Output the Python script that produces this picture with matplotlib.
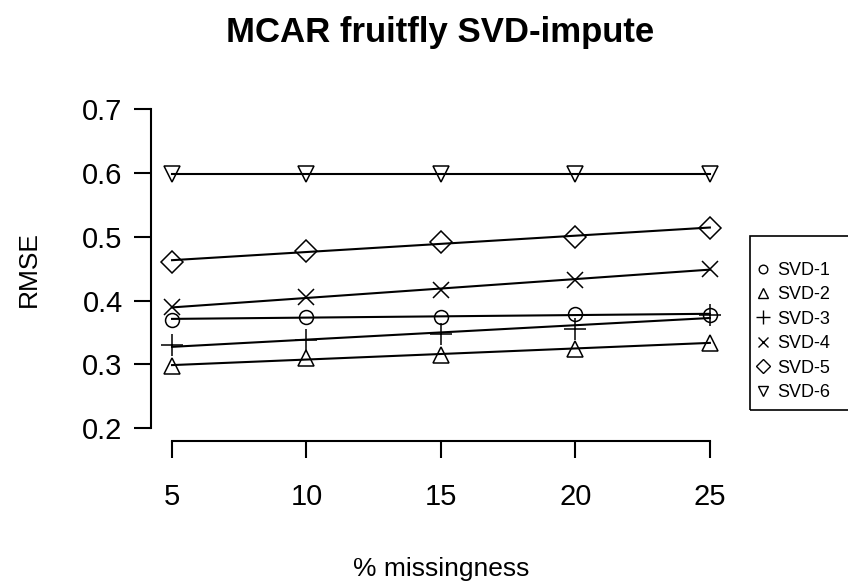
import numpy as np
import matplotlib
matplotlib.use("Agg")
import matplotlib.pyplot as plt
from matplotlib.patches import Rectangle

plt.rcParams['font.family'] = ['Liberation Sans', 'DejaVu Sans']

missingness = [5, 10, 15, 20, 25]
methods = ["SVD-1", "SVD-2", "SVD-3", "SVD-4", "SVD-5", "SVD-6"]
svd1 = [0.370, 0.375, 0.375, 0.379, 0.378]
svd2 = [0.298, 0.310, 0.315, 0.325, 0.334]
svd3 = [0.330, 0.339, 0.348, 0.356, 0.378]
svd4 = [0.390, 0.405, 0.417, 0.433, 0.450]
svd5 = [0.461, 0.478, 0.492, 0.500, 0.514]
svd6 = [0.598, 0.598, 0.598, 0.598, 0.598]
series = [svd1, svd2, svd3, svd4, svd5, svd6]

markers = ['o', '^', '+', 'x', 'D', 'v']
msizes = [10, 12, 16, 11, 11, 12]

W, H = 848, 586
fig = plt.figure(figsize=(W / 100, H / 100), dpi=100)
ax = fig.add_axes([0.1775, 0.2474, 0.685, 0.588])

x = np.array(missingness, dtype=float)
handles = []
for name, ys, m, ms in zip(methods, series, markers, msizes):
    ys = np.array(ys)
    # least-squares trend line through each method's points
    slope, icpt = np.polyfit(x, ys, 1)
    ax.plot(x, icpt + slope * x, color='black', lw=1.5, zorder=2)
    ax.plot(x, ys, linestyle='none', marker=m, markersize=ms,
            markerfacecolor='none', markeredgecolor='black',
            markeredgewidth=1.1, zorder=3)
    h, = ax.plot([], [], linestyle='none', marker=m, markersize=ms * 0.62,
                 markerfacecolor='none', markeredgecolor='black',
                 markeredgewidth=1.0, label=name)
    handles.append(h)

ax.set_xlim(4.2, 25.8)
ax.set_ylim(0.18, 0.72)
ax.set_xticks(missingness)
ax.set_yticks([0.2, 0.3, 0.4, 0.5, 0.6, 0.7])
ax.set_yticklabels(["0.2", "0.3", "0.4", "0.5", "0.6", "0.7"])

for side in ['top', 'right']:
    ax.spines[side].set_visible(False)
ax.spines['left'].set_bounds(0.2, 0.7)
ax.spines['bottom'].set_bounds(5, 25)
for sp in ax.spines.values():
    sp.set_linewidth(1.5)
ax.tick_params(axis='both', direction='out', length=12, width=1.5,
               labelsize=21)
ax.tick_params(axis='x', pad=18)
ax.tick_params(axis='y', pad=8)

ax.set_xlabel("% missingness", fontsize=19, labelpad=33)
ax.set_ylabel("RMSE", fontsize=19, labelpad=30)
fig.suptitle("MCAR fruitfly SVD-impute", fontsize=25, fontweight='bold',
             x=0.519, y=0.973)

# legend box drawn as its own rectangle, running off the right edge
fig.patches.append(Rectangle((750 / W, 1 - 410 / H), 120 / W, 174 / H,
                             transform=fig.transFigure, fill=False,
                             edgecolor='black', linewidth=1.2))
leg = fig.legend(handles=handles, loc='upper left',
                 bbox_to_anchor=(756 / W, 1 - 262 / H),
                 frameon=False, fontsize=13,
                 handlelength=0.8, handletextpad=0.4, labelspacing=0.41,
                 borderpad=0, borderaxespad=0)

fig.savefig("out.png", dpi=100)
